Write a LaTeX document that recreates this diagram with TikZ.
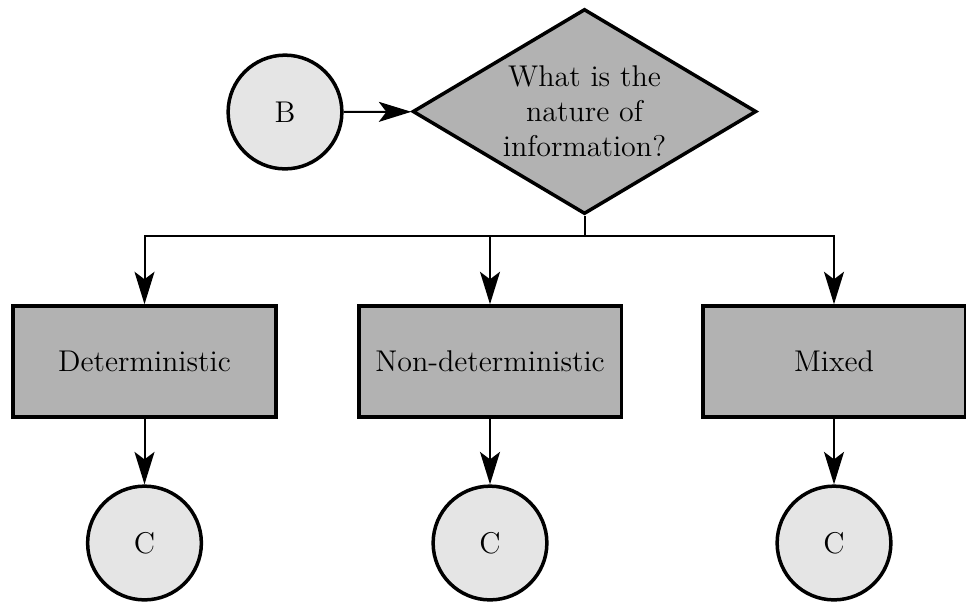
\documentclass[tikz,border=0pt]{standalone}
\usetikzlibrary{shapes.geometric,arrows.meta}
\begin{document}
\begin{tikzpicture}[x=0.4pt,y=-0.4pt,
  every node/.style={font=\fontsize{12}{14}\selectfont},
  connector/.style={line width=0.8pt,-{Stealth[length=13pt,width=8pt,inset=3pt]}},
  plainline/.style={line width=0.8pt},
  decision/.style={diamond,draw,line width=1.4pt,fill=black!30,inner sep=0pt,
    aspect=1.67,minimum width=137.5pt,minimum height=82pt,align=center},
  process/.style={rectangle,draw,line width=1.4pt,fill=black!30,
    minimum width=105pt,minimum height=44.4pt},
  offpage/.style={circle,draw,line width=1.4pt,fill=black!10,
    minimum size=45.5pt,inner sep=0pt}]
\useasboundingbox (0,0) rectangle (966,603);
% start connector and the question
\node[offpage] (B) at (285,112) {B};
\node[decision] (Q) at (584.5,111.5) {What is the\\nature of\\information?};
% the three answers
\node[process] (D) at (144.5,361.5) {Deterministic};
\node[process] (N) at (490,361.5) {Non-deterministic};
\node[process] (M) at (834,361.5) {Mixed};
% continuation connectors
\node[offpage] (C1) at (144.5,543) {C};
\node[offpage] (C2) at (490,543) {C};
\node[offpage] (C3) at (834,543) {C};
% branching
\coordinate (split) at (584.5,236);
\draw[connector] (B) -- (Q);
\draw[plainline] (Q.south) -- (split);
\draw[connector] (split) -| (D.north);
\draw[connector] (split) -| (N.north);
\draw[connector] (split) -| (M.north);
\draw[connector] (D) -- (C1);
\draw[connector] (N) -- (C2);
\draw[connector] (M) -- (C3);
\end{tikzpicture}
\end{document}
